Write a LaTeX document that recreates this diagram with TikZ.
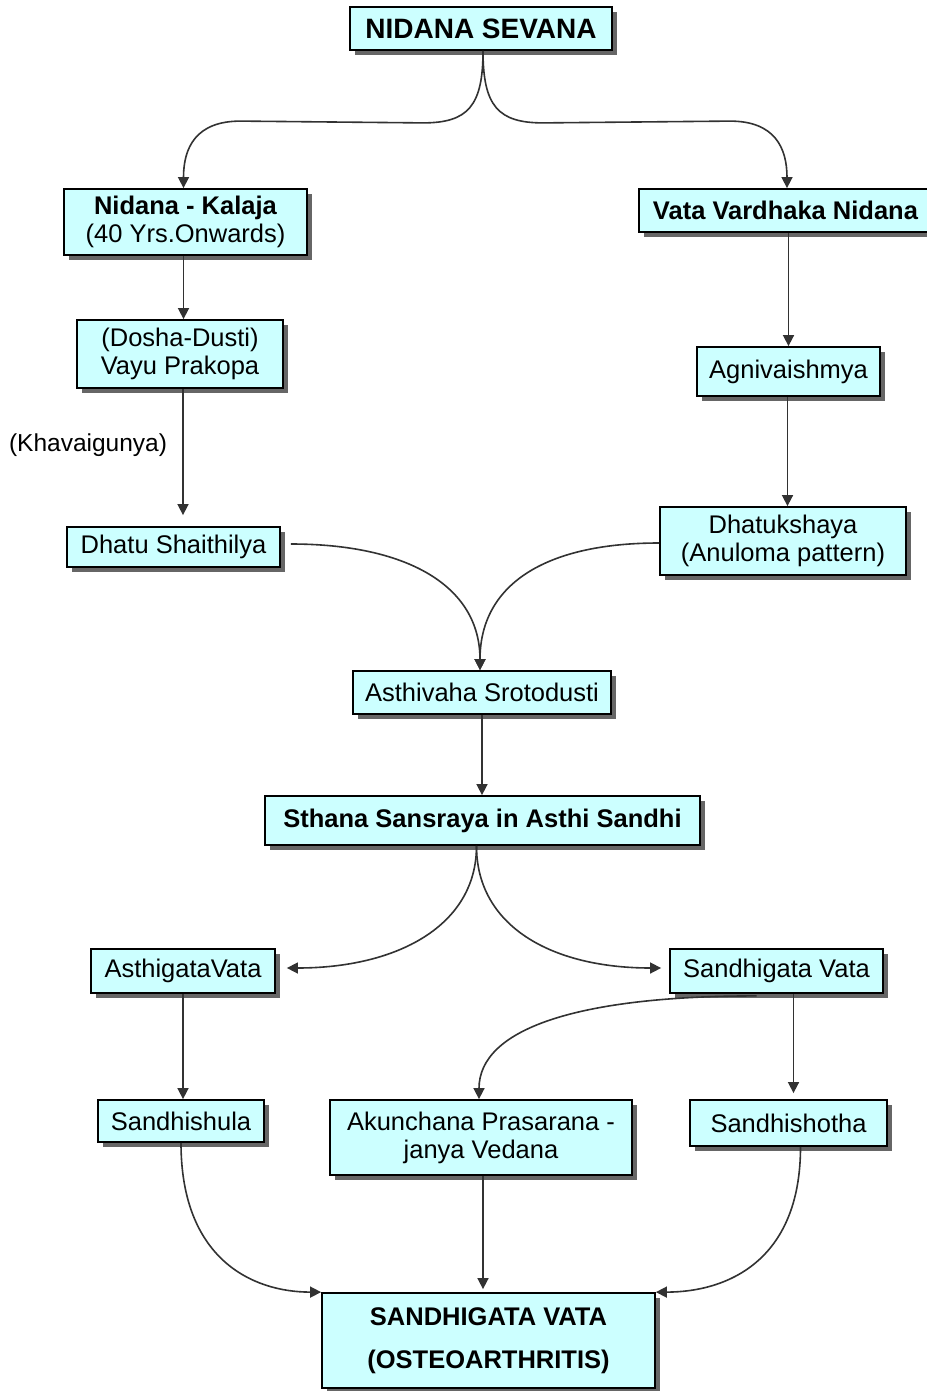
\documentclass[tikz,border=0pt]{standalone}
\usepackage{fontspec}
\setmainfont{Liberation Sans}
\usetikzlibrary{arrows.meta,shadows,calc}
\definecolor{boxfill}{RGB}{204,255,255}
\definecolor{linegray}{RGB}{50,50,50}
\begin{document}
\begin{tikzpicture}[x=1pt,y=-1pt,
  box/.style={draw=black, line width=1.8pt, fill=boxfill, inner sep=0pt,
    align=center, font=\fontsize{25.5}{28}\selectfont,
    drop shadow={shadow xshift=5pt, shadow yshift=-5pt, fill=black!60, opacity=1}},
  conn/.style={draw=linegray, line width=1.6pt, -{Triangle[length=11pt,width=11pt]}},
  lbl/.style={inner sep=0pt, font=\fontsize{24.5}{28}\selectfont}]
\useasboundingbox (0,0) rectangle (926,1391);
\fill[white] (0,0) rectangle (926,1391);

\node[box, minimum width=262pt, minimum height=43pt, font=\fontsize{28}{30}\selectfont\bfseries] (top) at (481,28.5) {NIDANA SEVANA};
\node[box, minimum width=243pt, minimum height=66pt] (kal) at (185.5,222) {\textbf{Nidana - Kalaja}\\(40 Yrs.Onwards)};
\node[box, minimum width=293pt, minimum height=43pt, font=\fontsize{25.5}{28}\selectfont\bfseries] (vvn) at (785.5,210.5) {Vata Vardhaka Nidana};
\node[box, minimum width=206pt, minimum height=68pt] (vay) at (180,354) {(Dosha-Dusti)\\Vayu Prakopa};
\node[box, minimum width=183pt, minimum height=49pt] (agn) at (788.5,371.5) {Agnivaishmya};
\node[lbl] (kha) at (88,445) {(Khavaigunya)};
\node[box, minimum width=213pt, minimum height=40pt] (dha) at (173.5,547) {Dhatu Shaithilya};
\node[box, minimum width=246pt, minimum height=68pt] (dhk) at (783,541) {Dhatukshaya\\(Anuloma pattern)};
\node[box, minimum width=258pt, minimum height=43pt] (ast) at (482,692.5) {Asthivaha Srotodusti};
\node[box, minimum width=435pt, minimum height=49pt, font=\fontsize{25.5}{28}\selectfont\bfseries] (sth) at (482.5,820.5) {Sthana Sansraya in Asthi Sandhi};
\node[box, minimum width=184pt, minimum height=44pt] (agv) at (183,971) {AsthigataVata};
\node[box, minimum width=213pt, minimum height=44pt] (sgv) at (776.5,971) {Sandhigata Vata};
\node[box, minimum width=166pt, minimum height=42pt] (ssh) at (181,1121) {Sandhishula};
\node[box, minimum width=302pt, minimum height=75pt] (aku) at (481,1137.5) {Akunchana Prasarana -\\janya Vedana};
\node[box, minimum width=197pt, minimum height=46pt] (sso) at (788.5,1123) {Sandhishotha};
\node[box, minimum width=333pt, minimum height=95pt, font=\fontsize{25.5}{43}\selectfont\bfseries] (fin) at (488.5,1340.5) {SANDHIGATA VATA\\(OSTEOARTHRITIS)};

% top split
\coordinate (ts) at ($(top.south)+(2,0)$);
\coordinate (kt) at ($(kal.north)+(-2,0)$);
\coordinate (vt) at ($(vvn.north)+(1.5,0)$);
\draw[conn] (ts) .. controls +(0,55) and +(45,0) .. ($(ts)+(-60,72)$) -- ($(kt)+(57,-67)$) .. controls +(-45,0) and +(0,-40) .. (kt);
\draw[conn] (ts) .. controls +(0,55) and +(-45,0) .. ($(ts)+(60,72)$) -- ($(vt)+(-57,-67)$) .. controls +(45,0) and +(0,-40) .. (vt);

% left column
\draw[conn] ($(kal.south)+(-2,0)$) -- ($(kal.south |- vay.north)+(-2,0)$);
\draw[conn] ($(vay.south)+(3,0)$) -- ($(vay.south |- dha.north)+(3,-11)$);

% right column
\draw[conn] (agn.north |- vvn.south) -- (agn.north);
\draw[conn] ($(agn.south)+(-1,0)$) -- ($(agn.south |- dhk.north)+(-1,0)$);

% merge into Asthivaha
\coordinate (at) at ($(ast.north)+(-2,0)$);
\draw[conn] ($(dha.east)+(10,-3)$) .. controls +(115,0) and +(0,-85) .. (at);
\draw[conn] ($(dhk.west)+(0,2)$) .. controls +(-115,0) and +(0,-85) .. (at);

\draw[conn] (ast.south) -- (ast.south |- sth.north);

% split from Sthana
\coordinate (ss) at ($(sth.south)+(-6,0)$);
\draw[conn] (ss) .. controls +(0,80) and +(110,0) .. ($(agv.east)+(11,-3)$);
\draw[conn] (ss) .. controls +(0,80) and +(-110,0) .. ($(sgv.west)+(-8,-3)$);

% below asthigata / sandhigata
\draw[conn] (agv.south) -- (agv.south |- ssh.north);
\draw[conn] ($(sgv.south)+(17,0)$) -- ($(sgv.south |- sso.north)+(17,-6)$);
\draw[conn] ($(sgv.south)+(-20,2)$) .. controls +(-180,0) and +(0,-70) .. ($(aku.north)+(-2,0)$);

% into final
\draw[conn] (ssh.south) .. controls +(0,115) and +(-70,0) .. (fin.north west);
\draw[conn] ($(sso.south)+(12,0)$) .. controls +(0,115) and +(70,0) .. (fin.north east);
\draw[conn] ($(aku.south)+(2,0)$) -- ($(aku.south |- fin.north)+(2,-3)$);
\end{tikzpicture}
\end{document}
